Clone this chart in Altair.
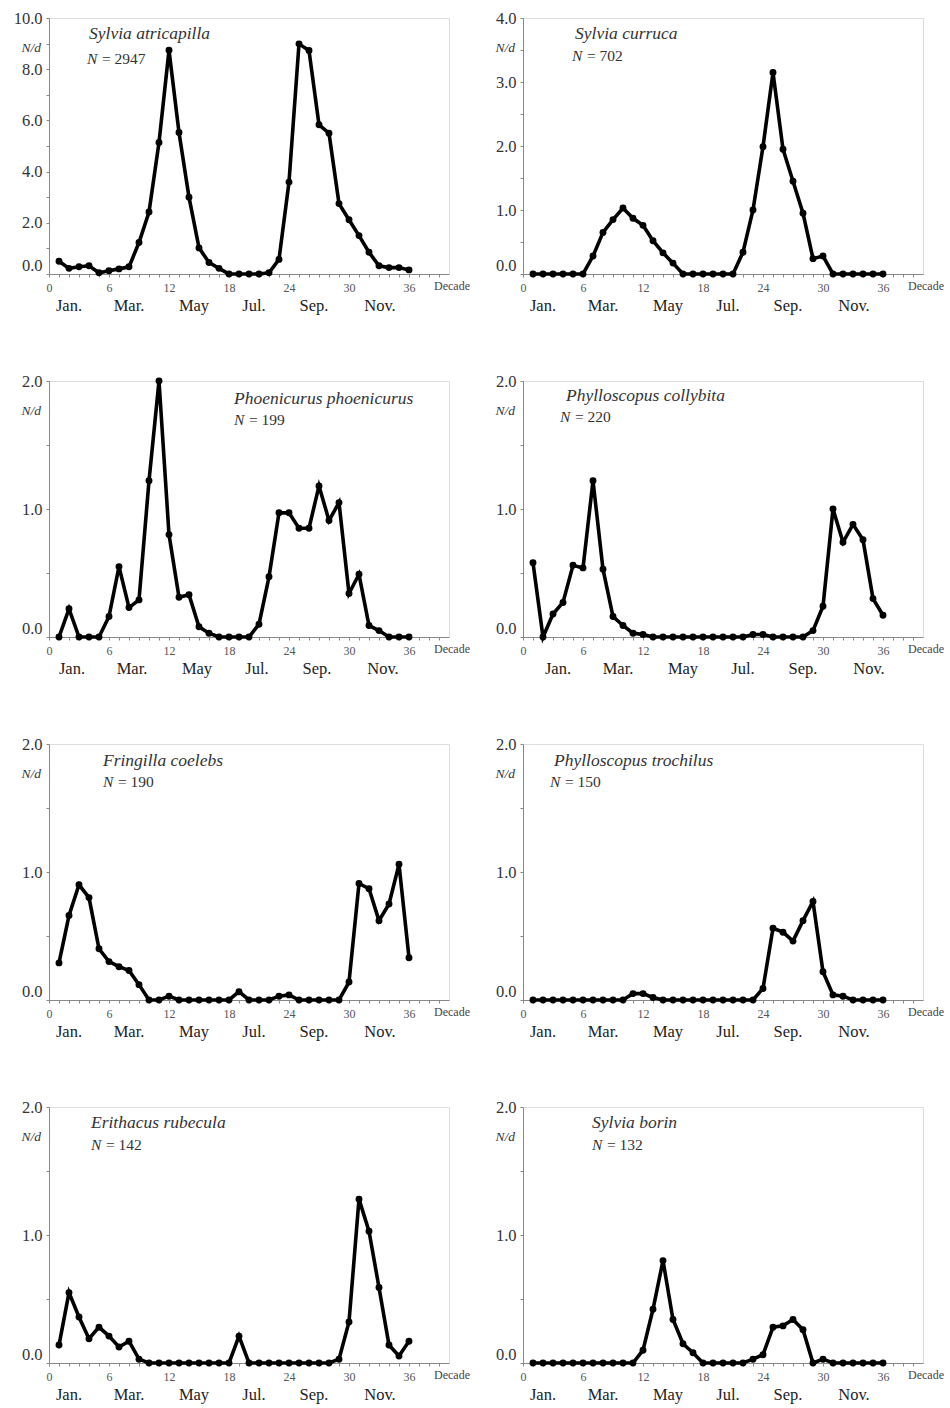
import altair as alt
import pandas as pd

decades = list(range(1, 37))

atricapilla = [0.5, 0.22, 0.28, 0.32, 0.05, 0.13, 0.2, 0.28, 1.23, 2.42, 5.14, 8.74,
               5.53, 3.0, 1.02, 0.45, 0.22, 0, 0, 0, 0, 0.05, 0.57, 3.59,
               8.99, 8.73, 5.83, 5.5, 2.75, 2.12, 1.5, 0.85, 0.32, 0.25, 0.25, 0.16]
curruca = [0, 0, 0, 0, 0, 0, 0.28, 0.65, 0.85, 1.03, 0.87, 0.76,
           0.52, 0.33, 0.17, 0, 0, 0, 0, 0, 0, 0.34, 1.0, 1.99,
           3.15, 1.95, 1.45, 0.95, 0.24, 0.28, 0, 0, 0, 0, 0, 0]
phoenicurus = [0, 0.22, 0, 0, 0, 0.16, 0.55, 0.23, 0.29, 1.22, 2.0, 0.8,
               0.31, 0.33, 0.08, 0.03, 0, 0, 0, 0, 0.1, 0.47, 0.97, 0.97,
               0.85, 0.85, 1.18, 0.91, 1.05, 0.34, 0.49, 0.09, 0.05, 0, 0, 0]
collybita = [0.58, 0, 0.18, 0.27, 0.56, 0.54, 1.22, 0.53, 0.16, 0.09, 0.03, 0.02,
             0, 0, 0, 0, 0, 0, 0, 0, 0, 0, 0.02, 0.02,
             0, 0, 0, 0, 0.05, 0.24, 1.0, 0.74, 0.88, 0.76, 0.30, 0.17]
coelebs = [0.29, 0.66, 0.90, 0.80, 0.40, 0.30, 0.26, 0.23, 0.12, 0, 0, 0.03,
           0, 0, 0, 0, 0, 0, 0.065, 0, 0, 0, 0.03, 0.04,
           0, 0, 0, 0, 0, 0.14, 0.91, 0.87, 0.62, 0.75, 1.06, 0.33]
trochilus = [0, 0, 0, 0, 0, 0, 0, 0, 0, 0, 0.05, 0.05,
             0.02, 0, 0, 0, 0, 0, 0, 0, 0, 0, 0, 0.09,
             0.56, 0.53, 0.46, 0.62, 0.77, 0.22, 0.04, 0.03, 0, 0, 0, 0]
rubecula = [0.14, 0.55, 0.36, 0.19, 0.28, 0.21, 0.125, 0.17, 0.03, 0, 0, 0,
            0, 0, 0, 0, 0, 0, 0.21, 0, 0, 0, 0, 0,
            0, 0, 0, 0, 0.03, 0.32, 1.28, 1.03, 0.59, 0.14, 0.055, 0.17]
borin = [0, 0, 0, 0, 0, 0, 0, 0, 0, 0, 0, 0.1,
         0.42, 0.80, 0.34, 0.15, 0.08, 0, 0, 0, 0, 0, 0.03, 0.065,
         0.28, 0.29, 0.34, 0.26, 0, 0.03, 0, 0, 0, 0, 0, 0]

species_names = ["Sylvia atricapilla", "Sylvia curruca", "Phoenicurus phoenicurus",
                 "Phylloscopus collybita", "Fringilla coelebs", "Phylloscopus trochilus",
                 "Erithacus rubecula", "Sylvia borin"]
n_totals = ["2947", "702", "199", "220", "190", "150", "142", "132"]
series_list = [atricapilla, curruca, phoenicurus, collybita, coelebs, trochilus, rubecula, borin]
y_max = [10, 4, 2, 2, 2, 2, 2, 2]
y_label_step = [2, 1, 1, 1, 1, 1, 1, 1]
y_tick_step = [1, 0.5, 0.5, 0.5, 0.5, 0.5, 0.5, 0.5]

month_names = ["Jan.", "Mar.", "May", "Jul.", "Sep.", "Nov."]
month_pos = [2, 8, 14.5, 20.5, 26.5, 33.1]
month_shift = [0, 0, 0.3, 1.5, 0, 0, 0, 0]

# title placement (pixel offsets inside the plot area)
title_xy = [(40, 16, 38, 41), (52, 16, 49, 38), (185, 18, 185, 39), (43, 15, 37, 36),
            (54, 17, 54, 38), (31, 17, 27, 38), (42, 16, 42, 38), (69, 16, 69, 38)]

W, H = 400, 256
FONT = "Liberation Serif"


def panel(i):
    df = pd.DataFrame({"decade": decades, "value": series_list[i]})
    ymax = y_max[i]
    step = y_tick_step[i]
    lstep = y_label_step[i]
    yvals = [round(k * step, 2) for k in range(int(round(ymax / step)) + 1)]
    xscale = alt.Scale(domain=[0, 40], nice=False)
    xaxis = alt.Axis(values=list(range(0, 40)), grid=False,
                     labelExpr="datum.value % 6 == 0 ? datum.label : ''",
                     labelOverlap=False, labelFlush=False,
                     tickSize=3, labelPadding=5, labelFontSize=12,
                     labelColor="#555", labelFont=FONT)
    x = alt.X("decade:Q", scale=xscale, axis=xaxis, title=None)
    y = alt.Y("value:Q",
              scale=alt.Scale(domain=[0, ymax], nice=False),
              axis=alt.Axis(values=yvals, grid=False,
                            labelExpr=f"abs(datum.value / {lstep} - round(datum.value / {lstep})) < 0.001 ? format(datum.value, '.1f') : ''",
                            labelOverlap=False, labelFlush=False,
                            labelOffset={"condition": {"test": "datum.value === 0", "value": -9}, "value": 0},
                            tickSize=3, labelPadding=4, labelFontSize=16.5,
                            labelColor="#333", labelFont=FONT),
              title=None)
    base = alt.Chart(df)
    line = base.mark_line(color="black", strokeWidth=3.6).encode(x=x, y=y)
    pts = base.mark_circle(color="black", size=48, opacity=1).encode(x=x, y=y)

    tx, ty, nx, ny = title_xy[i]
    tdf = pd.DataFrame({"t": [species_names[i]]})
    title = alt.Chart(tdf).mark_text(font=FONT, fontSize=17.5, fontStyle="italic", color="#333",
                                     align="left", baseline="middle").encode(
        text="t:N", x=alt.value(tx), y=alt.value(ty))
    ndf = pd.DataFrame({"n": ["N"], "v": ["= " + n_totals[i]]})
    n_it = alt.Chart(ndf).mark_text(font=FONT, fontSize=15.5, fontStyle="italic", color="#333",
                                    align="left", baseline="middle").encode(
        text="n:N", x=alt.value(nx), y=alt.value(ny))
    n_val = alt.Chart(ndf).mark_text(font=FONT, fontSize=15.5, color="#333",
                                     align="left", baseline="middle").encode(
        text="v:N", x=alt.value(nx + 15), y=alt.value(ny))

    mdf = pd.DataFrame({"m": month_names, "pos": [p + month_shift[i] for p in month_pos]})
    months = alt.Chart(mdf).mark_text(font=FONT, fontSize=16.5, color="#222",
                                      baseline="middle").encode(
        text="m:N",
        x=alt.X("pos:Q", scale=xscale, axis=xaxis, title=None),
        y=alt.value(H + 32))

    lab = pd.DataFrame({"d": ["Decade"], "nd": ["N/d"]})
    decade = alt.Chart(lab).mark_text(font=FONT, fontSize=12, color="#444",
                                      baseline="middle").encode(
        text="d:N", x=alt.value(W + 3), y=alt.value(H + 12))
    nd = alt.Chart(lab).mark_text(font=FONT, fontSize=13.5, fontStyle="italic", color="#333",
                                  align="right", baseline="middle").encode(
        text="nd:N", x=alt.value(-8), y=alt.value(30))

    return alt.layer(line, pts, title, n_it, n_val, months, decade, nd).properties(width=W, height=H)


chart = alt.concat(*[panel(i) for i in range(8)], columns=2,
                   spacing={"row": 107, "column": 74}, bounds="flush").properties(
    padding={"left": 12, "top": 9, "right": 5, "bottom": 5}
).configure_view(stroke="#888", strokeWidth=1).configure_axis(
    grid=False, domainColor="#888", tickColor="#888", domainWidth=1
).configure(background="white")

chart.save("out.html", embed_options={"renderer": "svg", "actions": False})
